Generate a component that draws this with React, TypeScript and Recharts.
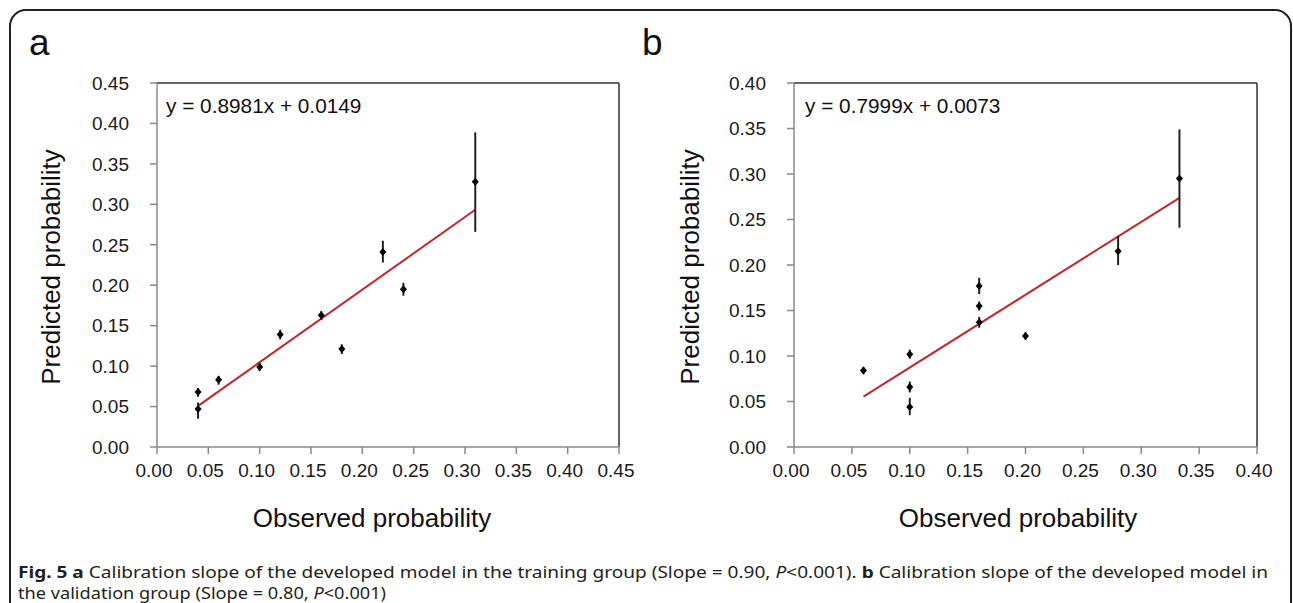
import React from 'react';
import {
  ComposedChart,
  Scatter,
  Line,
  XAxis,
  YAxis,
  ErrorBar,
  ReferenceLine,
} from 'recharts';

// panel a: training group
const obsA = [0.04, 0.04, 0.06, 0.10, 0.12, 0.16, 0.18, 0.22, 0.24, 0.31];
const predA = [0.068, 0.047, 0.083, 0.099, 0.139, 0.163, 0.121, 0.241, 0.195, 0.328];
const lowA = [0.062, 0.035, 0.077, 0.094, 0.133, 0.157, 0.115, 0.228, 0.187, 0.266];
const highA = [0.073, 0.055, 0.088, 0.104, 0.145, 0.168, 0.127, 0.255, 0.203, 0.389];
const fitXA = [0.04, 0.31];
const fitYA = [0.0508, 0.2933];
const ticksA = [0, 0.05, 0.1, 0.15, 0.2, 0.25, 0.3, 0.35, 0.4, 0.45];

// panel b: validation group
const obsB = [0.06, 0.10, 0.10, 0.10, 0.16, 0.16, 0.16, 0.20, 0.28, 0.333];
const predB = [0.084, 0.102, 0.066, 0.044, 0.177, 0.155, 0.137, 0.122, 0.215, 0.295];
const lowB = [0.080, 0.097, 0.060, 0.035, 0.168, 0.150, 0.131, 0.118, 0.200, 0.241];
const highB = [0.088, 0.107, 0.072, 0.054, 0.186, 0.160, 0.143, 0.126, 0.232, 0.349];
const fitXB = [0.06, 0.333];
const fitYB = [0.0553, 0.2737];
const ticksB = [0, 0.05, 0.1, 0.15, 0.2, 0.25, 0.3, 0.35, 0.4];

const FONT = '"Liberation Sans", Arial, sans-serif';
const AXIS_GREY = '#8a8a8a';

const toPoints = (xs: number[], ys: number[], lo: number[], hi: number[]) =>
  xs.map((x, i) => ({ x, y: ys[i], err: [ys[i] - lo[i], hi[i] - ys[i]] }));

const toLine = (xs: number[], ys: number[]) => xs.map((x, i) => ({ x, y: ys[i] }));

const Diamond = (p: any) => (
  <polygon
    points={`${p.cx},${p.cy - 4} ${p.cx + 3.5},${p.cy} ${p.cx},${p.cy + 4} ${p.cx - 3.5},${p.cy}`}
    fill="#000"
  />
);

interface PanelProps {
  points: { x: number; y: number; err: number[] }[];
  fit: { x: number; y: number }[];
  ticks: number[];
  marginLeft: number;
  marginRight: number;
}

const Panel = ({ points, fit, ticks, marginLeft, marginRight }: PanelProps) => {
  const max = ticks[ticks.length - 1];
  const tickStyle = { fill: '#1a1a1a', fontSize: 19, fontFamily: FONT };
  return (
    <ComposedChart
      width={640}
      height={540}
      margin={{ top: 83, right: marginRight, bottom: 33, left: marginLeft }}
    >
      <XAxis
        type="number"
        dataKey="x"
        domain={[0, max]}
        ticks={ticks}
        interval={0}
        allowDataOverflow
        tickFormatter={(v: number) => v.toFixed(2)}
        tick={{ ...tickStyle, dx: -3 }}
        tickSize={7}
        tickMargin={10}
        height={60}
        axisLine={{ stroke: AXIS_GREY, strokeWidth: 1.5 }}
        tickLine={{ stroke: AXIS_GREY, strokeWidth: 1.5 }}
      />
      <YAxis
        type="number"
        dataKey="y"
        domain={[0, max]}
        ticks={ticks}
        interval={0}
        allowDataOverflow
        tickFormatter={(v: number) => v.toFixed(2)}
        tick={tickStyle}
        tickSize={7}
        tickMargin={21}
        width={80}
        axisLine={{ stroke: AXIS_GREY, strokeWidth: 1.5 }}
        tickLine={{ stroke: AXIS_GREY, strokeWidth: 1.5 }}
      />
      <ReferenceLine y={max} stroke="#333" strokeWidth={1.5} />
      <ReferenceLine x={max} stroke="#333" strokeWidth={1.5} />
      <Line
        data={fit}
        dataKey="y"
        type="linear"
        stroke="#c3272b"
        strokeWidth={2}
        dot={false}
        activeDot={false}
        isAnimationActive={false}
      />
      <Scatter data={points} dataKey="y" shape={Diamond} isAnimationActive={false}>
        <ErrorBar dataKey="err" direction="y" width={0} stroke="#222" strokeWidth={2} />
      </Scatter>
    </ComposedChart>
  );
};

const titleStyle = { fontFamily: FONT, fontSize: 26, fill: '#111' };
const eqStyle = { fontFamily: FONT, fontSize: 20.8, fill: '#111' };
const captionFont = '"Noto Sans", "Open Sans", sans-serif';

export default function App() {
  return (
    <div
      style={{
        position: 'absolute',
        left: 0,
        top: 0,
        width: 1293,
        height: 603,
        overflow: 'hidden',
        background: '#fff',
      }}
    >
      <div style={{ position: 'absolute', left: 0, top: 0 }}>
        <Panel
          points={toPoints(obsA, predA, lowA, highA)}
          fit={toLine(fitXA, fitYA)}
          ticks={ticksA}
          marginLeft={77}
          marginRight={21}
        />
      </div>
      <div style={{ position: 'absolute', left: 640, top: 0 }}>
        <Panel
          points={toPoints(obsB, predB, lowB, highB)}
          fit={toLine(fitXB, fitYB)}
          ticks={ticksB}
          marginLeft={74}
          marginRight={23}
        />
      </div>
      <svg
        width={1293}
        height={603}
        style={{ position: 'absolute', left: 0, top: 0, pointerEvents: 'none' }}
      >
        <rect x={10} y={10} width={1281} height={700} rx={16} fill="none" stroke="#222" strokeWidth={2} />
        <text x={29} y={55} style={{ fontFamily: FONT, fontSize: 37, fill: '#111' }}>a</text>
        <text x={642} y={55} style={{ fontFamily: FONT, fontSize: 37, fill: '#111' }}>b</text>
        <text x={166} y={113} style={eqStyle}>y = 0.8981x + 0.0149</text>
        <text x={805} y={113} style={eqStyle}>y = 0.7999x + 0.0073</text>
        <text x={372} y={527} textAnchor="middle" style={titleStyle}>Observed probability</text>
        <text x={1018} y={527} textAnchor="middle" style={titleStyle}>Observed probability</text>
        <text transform="translate(60,267) rotate(-90)" textAnchor="middle" style={titleStyle}>
          Predicted probability
        </text>
        <text transform="translate(699,267) rotate(-90)" textAnchor="middle" style={titleStyle}>
          Predicted probability
        </text>
        <text
          x={18}
          y={578}
          textLength={1250}
          lengthAdjust="spacingAndGlyphs"
          style={{ fontFamily: captionFont, fontSize: 15.5, fill: '#231f20' }}
        >
          <tspan fontWeight="bold">Fig. 5 a</tspan> Calibration slope of the developed model in the training group
          (Slope = 0.90, <tspan fontStyle="italic">P</tspan>&lt;0.001). <tspan fontWeight="bold">b</tspan> Calibration
          slope of the developed model in
        </text>
        <text
          x={18}
          y={599}
          textLength={368}
          lengthAdjust="spacingAndGlyphs"
          style={{ fontFamily: captionFont, fontSize: 15.5, fill: '#231f20' }}
        >
          the validation group (Slope = 0.80, <tspan fontStyle="italic">P</tspan>&lt;0.001)
        </text>
      </svg>
    </div>
  );
}
